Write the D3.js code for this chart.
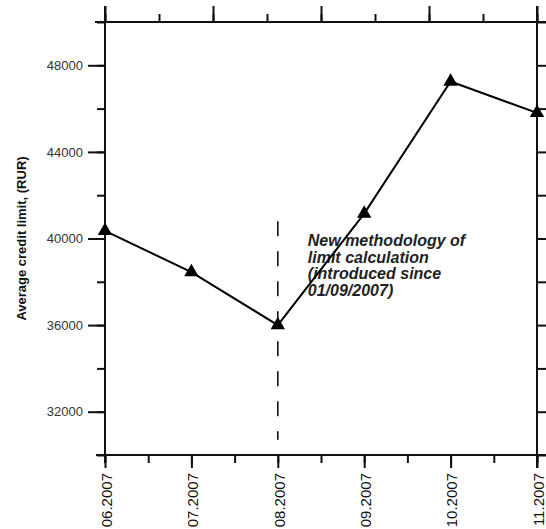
<!DOCTYPE html>
<html>
<head>
<meta charset="utf-8">
<script src="https://cdn.jsdelivr.net/npm/d3@7"></script>
<style>
  body { margin: 0; background: #fff; }
  svg { display: block; }
  text { font-family: "Liberation Sans", Arial, sans-serif; }
</style>
</head>
<body>
<svg id="chart"></svg>
<script>
// data
const months = ['06.2007', '07.2007', '08.2007', '09.2007', '10.2007', '11.2007'];
const creditLimit = [40350, 38450, 36000, 41150, 47250, 45800];
const yMajorTicks = [32000, 36000, 40000, 44000, 48000];
const yMinorTicks = [30000, 32000, 34000, 36000, 38000, 40000, 42000, 44000, 46000, 48000, 50000];
const noteMonth = '08.2007';
const noteSpan = [40800, 30700];
const noteLines = ['New methodology of', 'limit calculation', '(introduced since', '01/09/2007)'];

const svgWidth = 546, svgHeight = 529;
const margin = {top: 22, right: 9, bottom: 74, left: 105};
const width = svgWidth - margin.left - margin.right;
const height = svgHeight - margin.top - margin.bottom;

const svg = d3.select('#chart')
  .attr('width', svgWidth)
  .attr('height', svgHeight);

const chart = svg.append('g')
  .attr('transform', `translate(${margin.left}, ${margin.top})`);

/***************** Scales *************************/
const x = d3.scalePoint().domain(months).range([0, width]);
const xIdx = d3.scaleLinear().domain([0, months.length - 1]).range([0, width]);
const xTop = d3.scaleLinear().domain([0, 8]).range([0, width]);
const y = d3.scaleLinear().domain([30000, 50000]).range([height, 0]);

const styleAxis = (g) => {
  g.select('.domain').remove();
  g.selectAll('.tick line').attr('stroke', '#111').attr('stroke-width', 2);
};

/***************** Frame ***************************/
const frame = chart.append('g').attr('stroke', '#111').attr('stroke-width', 2);
frame.append('line').attr('x1', -10).attr('x2', width + 12).attr('y1', 0).attr('y2', 0);
frame.append('line').attr('x1', -9).attr('x2', width + 12).attr('y1', height).attr('y2', height);
frame.append('line').attr('x1', 0).attr('x2', 0).attr('y1', -16).attr('y2', height + 8);
frame.append('line').attr('x1', width).attr('x2', width).attr('y1', -16).attr('y2', height + 13);

/***************** Bottom axis *********************/
chart.append('g')
  .attr('transform', `translate(0, ${height})`)
  .call(d3.axisBottom(xIdx).tickValues(d3.range(0, months.length - 0.5, 0.5)).tickSize(8).tickFormat(''))
  .call(styleAxis);

chart.append('g')
  .attr('transform', `translate(0, ${height})`)
  .call(d3.axisBottom(x).tickSize(13).tickPadding(0))
  .call(styleAxis)
  .call(g => g.selectAll('.tick text')
    .attr('transform', 'rotate(-90)')
    .attr('x', -18)
    .attr('y', 1)
    .attr('dy', '0.35em')
    .attr('text-anchor', 'end')
    .attr('fill', '#111')
    .style('font-size', '15px'));

/***************** Top axis ************************/
chart.append('g')
  .call(d3.axisTop(xTop).ticks(8).tickSize(8).tickFormat(''))
  .call(styleAxis);
chart.append('g')
  .call(d3.axisTop(xTop).tickValues([0, 2, 4, 6, 8]).tickSize(16).tickFormat(''))
  .call(styleAxis);

/***************** Left axis ***********************/
chart.append('g')
  .call(d3.axisLeft(y).tickValues(yMinorTicks).tickSize(8).tickFormat(''))
  .call(styleAxis);
chart.append('g')
  .call(d3.axisLeft(y).tickValues(yMajorTicks).tickSize(17).tickPadding(5).tickFormat(d3.format('d')))
  .call(styleAxis)
  .call(g => g.selectAll('.tick text').attr('fill', '#333').style('font-size', '13px'));

/***************** Right axis **********************/
chart.append('g')
  .attr('transform', `translate(${width}, 0)`)
  .call(d3.axisRight(y).tickValues(yMinorTicks).tickSize(12).tickFormat(''))
  .call(styleAxis);

/***************** Annotation **********************/
chart.append('line')
  .attr('x1', x(noteMonth)).attr('x2', x(noteMonth))
  .attr('y1', y(noteSpan[0])).attr('y2', y(noteSpan[1]))
  .attr('stroke', '#111')
  .attr('stroke-width', 1.6)
  .attr('stroke-dasharray', '15,15');

const note = chart.append('text')
  .attr('x', x(noteMonth) + 30)
  .attr('y', y(noteSpan[0]) + 25)
  .attr('fill', '#222')
  .style('font-size', '16px')
  .style('font-weight', 'bold')
  .style('font-style', 'italic');
note.selectAll('tspan')
  .data(noteLines)
  .enter()
  .append('tspan')
  .attr('x', x(noteMonth) + 30)
  .attr('dy', (d, i) => i === 0 ? 0 : 16.6)
  .text(d => d);

/***************** Line + markers ******************/
const points = months.map((m, i) => ({month: m, value: creditLimit[i]}));

chart.append('path')
  .datum(points)
  .attr('fill', 'none')
  .attr('stroke', '#000')
  .attr('stroke-width', 2)
  .attr('d', d3.line().x(d => x(d.month)).y(d => y(d.value)));

chart.selectAll('.marker')
  .data(points)
  .enter()
  .append('path')
  .attr('class', 'marker')
  .attr('transform', d => `translate(${x(d.month)}, ${y(d.value)})`)
  .attr('d', d3.symbol().type(d3.symbolTriangle).size(90))
  .attr('fill', '#000');

/***************** Y title *************************/
svg.append('text')
  .attr('transform', `translate(21, ${margin.top + height / 2}) rotate(-90)`)
  .attr('dy', '0.35em')
  .attr('text-anchor', 'middle')
  .attr('fill', '#111')
  .style('font-size', '13px')
  .style('font-weight', 'bold')
  .text('Average credit limit, (RUR)');
</script>
</body>
</html>
